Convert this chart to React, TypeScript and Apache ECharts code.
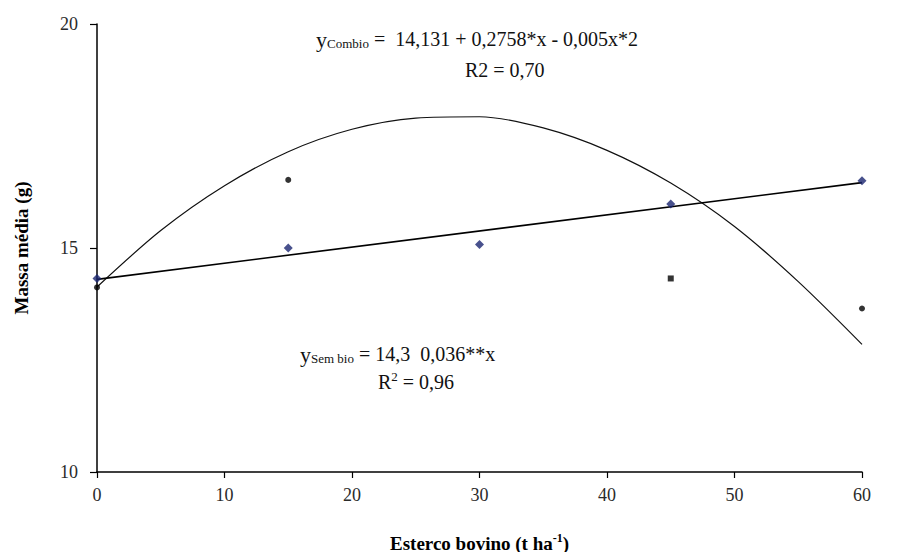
import React, { useEffect, useRef } from "react";
import * as echarts from "echarts";

const xTicks = [0, 10, 20, 30, 40, 50, 60];
const yTicks = [10, 15, 20];

const semBioX = [0, 15, 30, 45, 60];
const semBioY = [14.32, 15.0, 15.08, 15.98, 16.5];

const comBioX = [0, 15, 45, 60];
const comBioY = [14.12, 16.52, 14.32, 13.65];
const comBioSymbols = ["circle", "circle", "rect", "circle"];

const linFitX = [0, 60];
const linFitY = [14.3, 16.46];

const quadFitX = [0, 5, 10, 15, 20, 25, 30, 35, 40, 45, 50, 55, 60];
const quadFitY = [14.13, 15.39, 16.39, 17.15, 17.65, 17.9, 17.93, 17.68, 17.18, 16.45, 15.48, 14.25, 12.85];

const FONT = "'Liberation Serif', 'Times New Roman', serif";

export default function App() {
  const ref = useRef<HTMLDivElement>(null);
  useEffect(() => {
    if (!ref.current) return;
    const chart = echarts.init(ref.current, null, { renderer: "svg" });
    const option: any = {
      animation: false,
      backgroundColor: "#ffffff",
      grid: { left: 97, right: 37, top: 24, bottom: 88 },
      xAxis: {
        type: "value",
        min: xTicks[0],
        max: xTicks[xTicks.length - 1],
        interval: 10,
        name: "Esterco bovino (t ha{sup|-1})",
        nameLocation: "middle",
        nameGap: 60,
        nameTextStyle: {
          fontFamily: FONT,
          fontWeight: "bold",
          fontSize: 19,
          color: "#000",
          rich: {
            sup: { fontFamily: FONT, fontWeight: "bold", fontSize: 12, color: "#000", verticalAlign: "top", padding: [0, 0, 10, 0] },
          },
        },
        axisLine: { show: true, onZero: false, lineStyle: { color: "#000", width: 1.5 } },
        axisTick: { show: true, inside: false, length: 6, lineStyle: { color: "#000", width: 1.2 } },
        axisLabel: { fontFamily: FONT, fontSize: 18, color: "#2a2a2a", margin: 14 },
        splitLine: { show: false },
      },
      yAxis: {
        type: "value",
        min: yTicks[0],
        max: yTicks[yTicks.length - 1],
        interval: 5,
        name: "Massa média (g)",
        nameLocation: "middle",
        nameGap: 66,
        nameRotate: 90,
        nameTextStyle: { fontFamily: FONT, fontWeight: "bold", fontSize: 19, color: "#000" },
        axisLine: { show: true, lineStyle: { color: "#000", width: 1.5 } },
        axisTick: { show: true, inside: false, length: 7, lineStyle: { color: "#000", width: 1.2 } },
        axisLabel: { fontFamily: FONT, fontSize: 18, color: "#2a2a2a", margin: 19 },
        splitLine: { show: false },
      },
      series: [
        {
          name: "quad",
          type: "line",
          data: quadFitX.map((x, i) => [x, quadFitY[i]]),
          smooth: 0.3,
          showSymbol: false,
          symbol: "none",
          lineStyle: { color: "#111", width: 1.2 },
          z: 2,
        },
        {
          name: "lin",
          type: "line",
          data: linFitX.map((x, i) => [x, linFitY[i]]),
          showSymbol: false,
          symbol: "none",
          lineStyle: { color: "#000", width: 1.6 },
          z: 2,
        },
        {
          name: "Sem bio",
          type: "scatter",
          data: semBioX.map((x, i) => [x, semBioY[i]]),
          symbol: "diamond",
          symbolSize: 9,
          itemStyle: { color: "#1a2570" },
          z: 3,
        },
        {
          name: "Com bio",
          type: "scatter",
          data: comBioX.map((x, i) => ({
            value: [x, comBioY[i]],
            symbol: comBioSymbols[i],
            symbolSize: 6,
          })),
          itemStyle: { color: "#000" },
          z: 3,
        },
      ],
      graphic: [
        {
          type: "text",
          left: 316,
          top: 28,
          style: {
            text: "{y|y}{sub|Combio}{n| =  14,131 + 0,2758*x - 0,005x*2}",
            rich: {
              y: { fontFamily: FONT, fontSize: 22, fill: "#111" },
              sub: { fontFamily: FONT, fontSize: 13, fill: "#111", padding: [8, 0, 0, 0] },
              n: { fontFamily: FONT, fontSize: 20, fill: "#111" },
            },
          },
        },
        {
          type: "text",
          left: 465,
          top: 60,
          style: { text: "R2 = 0,70", fontFamily: FONT, fontSize: 20, fill: "#111" },
        },
        {
          type: "text",
          left: 300,
          top: 343,
          style: {
            text: "{y|y}{sub|Sem bio}{n| = 14,3  0,036**x}",
            rich: {
              y: { fontFamily: FONT, fontSize: 22, fill: "#111" },
              sub: { fontFamily: FONT, fontSize: 13, fill: "#111", padding: [8, 0, 0, 0] },
              n: { fontFamily: FONT, fontSize: 20, fill: "#111" },
            },
          },
        },
        {
          type: "text",
          left: 378,
          top: 370,
          style: {
            text: "{n|R}{sup|2}{n| = 0,96}",
            rich: {
              n: { fontFamily: FONT, fontSize: 20, fill: "#111" },
              sup: { fontFamily: FONT, fontSize: 13, fill: "#111", padding: [0, 0, 10, 0] },
            },
          },
        },
      ],
    };
    chart.setOption(option);
    return () => chart.dispose();
  }, []);
  return <div ref={ref} style={{ width: 899, height: 560, margin: -8 }} />;
}
